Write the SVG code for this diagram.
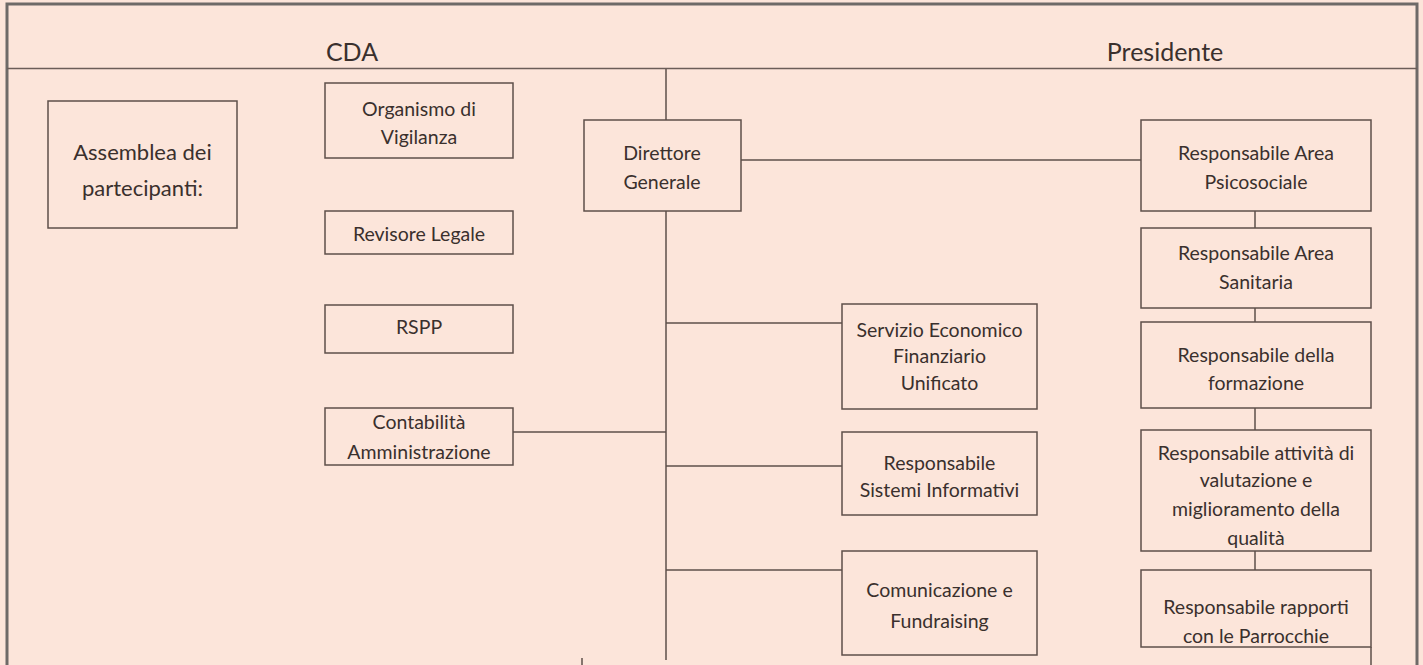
<svg xmlns="http://www.w3.org/2000/svg" width="1423" height="665" viewBox="0 0 1423 665">
<style>
.bg{fill:#fce5da}
.box{fill:#fce5da;stroke:#5e4f4a;stroke-width:1.5}
.ln{stroke:#5e4f4a;stroke-width:1.5;fill:none}
.t{font-family:Lato,"Open Sans",sans-serif;font-size:19.5px;fill:#3a302d;text-anchor:middle}
.h{font-family:Lato,"Open Sans",sans-serif;font-size:25px;fill:#3a302d;text-anchor:middle}
.a{font-family:Lato,"Open Sans",sans-serif;font-size:22px;fill:#3a302d;text-anchor:middle}
</style>
<rect x="0" y="0" width="1423" height="665" class="bg"/>
<rect x="7" y="4" width="1410" height="670" fill="none" stroke="#6e6a68" stroke-width="3"/>
<line x1="7" y1="68.5" x2="1417" y2="68.5" stroke="#6b5d58" stroke-width="1.5"/>
<text class="h" x="352" y="61">CDA</text>
<text class="h" x="1165" y="61">Presidente</text>
<g id="connectors">
<line class="ln" x1="666" y1="69" x2="666" y2="120"/>
<line class="ln" x1="666" y1="211" x2="666" y2="660"/>
<line class="ln" x1="741" y1="160" x2="1141" y2="160"/>
<line class="ln" x1="666" y1="323" x2="842" y2="323"/>
<line class="ln" x1="513" y1="432" x2="666" y2="432"/>
<line class="ln" x1="666" y1="466" x2="842" y2="466"/>
<line class="ln" x1="666" y1="570" x2="842" y2="570"/>
<line class="ln" x1="1255" y1="211" x2="1255" y2="228"/>
<line class="ln" x1="1255" y1="308" x2="1255" y2="322"/>
<line class="ln" x1="1255" y1="408" x2="1255" y2="430"/>
<line class="ln" x1="1255" y1="551" x2="1255" y2="570"/>
<line class="ln" x1="1371" y1="647" x2="1371" y2="665"/>
<line class="ln" x1="582" y1="658" x2="582" y2="665"/>
</g>
<g id="assemblea">
<rect class="box" x="48" y="101" width="189" height="127"/>
<text class="a" x="142.5" y="160">Assemblea dei</text>
<text class="a" x="142.5" y="196">partecipanti:</text>
</g>
<g id="organismo">
<rect class="box" x="325" y="83" width="188" height="75"/>
<text class="t" x="419" y="116">Organismo di</text>
<text class="t" x="419" y="144">Vigilanza</text>
</g>
<g id="revisore">
<rect class="box" x="325" y="211" width="188" height="43"/>
<text class="t" x="419" y="241">Revisore Legale</text>
</g>
<g id="rspp">
<rect class="box" x="325" y="305" width="188" height="48"/>
<text class="t" x="419" y="334">RSPP</text>
</g>
<g id="contabilita">
<rect class="box" x="325" y="408" width="188" height="57"/>
<text class="t" x="419" y="429">Contabilità</text>
<text class="t" x="419" y="459">Amministrazione</text>
</g>
<g id="direttore">
<rect class="box" x="584" y="120" width="157" height="91"/>
<text class="t" x="662" y="160">Direttore</text>
<text class="t" x="662" y="189">Generale</text>
</g>
<g id="servizio">
<rect class="box" x="842" y="304" width="195" height="105"/>
<text class="t" x="939.5" y="337">Servizio Economico</text>
<text class="t" x="939.5" y="363">Finanziario</text>
<text class="t" x="939.5" y="390">Unificato</text>
</g>
<g id="sistemi">
<rect class="box" x="842" y="432" width="195" height="83"/>
<text class="t" x="939.5" y="470">Responsabile</text>
<text class="t" x="939.5" y="497">Sistemi Informativi</text>
</g>
<g id="comunicazione">
<rect class="box" x="842" y="551" width="195" height="104"/>
<text class="t" x="939.5" y="597">Comunicazione e</text>
<text class="t" x="939.5" y="628">Fundraising</text>
</g>
<g id="psicosociale">
<rect class="box" x="1141" y="120" width="230" height="91"/>
<text class="t" x="1256" y="160">Responsabile Area</text>
<text class="t" x="1256" y="189">Psicosociale</text>
</g>
<g id="sanitaria">
<rect class="box" x="1141" y="228" width="230" height="80"/>
<text class="t" x="1256" y="260">Responsabile Area</text>
<text class="t" x="1256" y="289">Sanitaria</text>
</g>
<g id="formazione">
<rect class="box" x="1141" y="322" width="230" height="86"/>
<text class="t" x="1256" y="362">Responsabile della</text>
<text class="t" x="1256" y="390">formazione</text>
</g>
<g id="qualita">
<rect class="box" x="1141" y="430" width="230" height="121"/>
<text class="t" x="1256" y="460">Responsabile attività di</text>
<text class="t" x="1256" y="487">valutazione e</text>
<text class="t" x="1256" y="516">miglioramento della</text>
<text class="t" x="1256" y="545">qualità</text>
</g>
<g id="parrocchie">
<rect class="box" x="1141" y="570" width="230" height="77"/>
<text class="t" x="1256" y="614">Responsabile rapporti</text>
<text class="t" x="1256" y="643">con le Parrocchie</text>
</g>
</svg>
